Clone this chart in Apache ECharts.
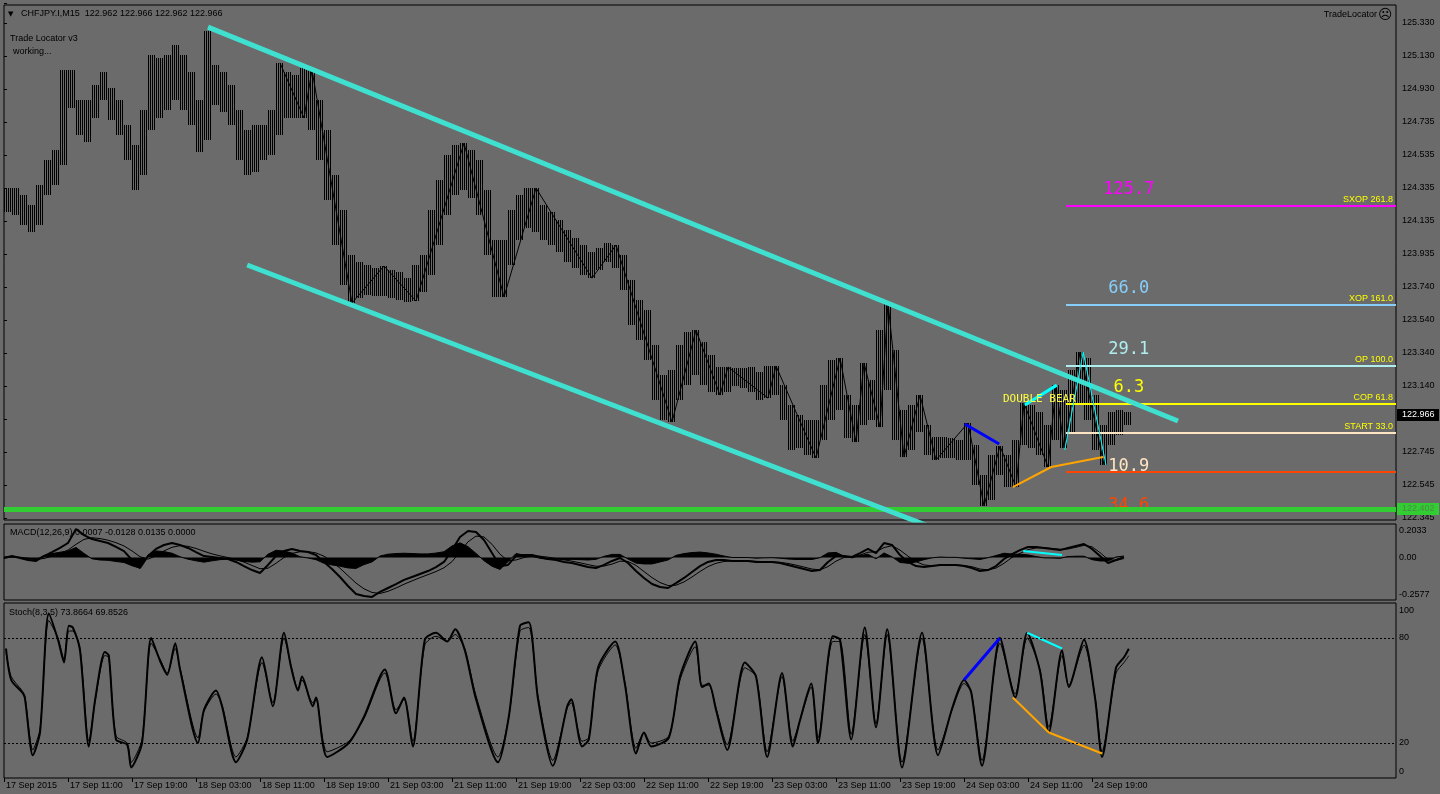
<!DOCTYPE html>
<html>
<head>
<meta charset="utf-8">
<script src="https://cdn.jsdelivr.net/npm/echarts@6/dist/echarts.min.js"></script>
<style>
html,body{margin:0;padding:0;background:#6b6b6b;}
#c{width:1440px;height:794px;}
</style>
</head>
<body>
<div id="c"></div>
<script>
// ---------------- DATA ----------------
const headerText = 'CHFJPY.I,M15  122.962 122.966 122.962 122.966';
const macdHeader = 'MACD(12,26,9) 0.0007 -0.0128 0.0135 0.0000';
const stochHeader = 'Stoch(8,3,5) 73.8664 69.8526';

// time axis: hours since 17 Sep 03:00 (trading hours), label every 8 hours
const timeLabels = ['17 Sep 2015','17 Sep 11:00','17 Sep 19:00','18 Sep 03:00','18 Sep 11:00','18 Sep 19:00',
  '21 Sep 03:00','21 Sep 11:00','21 Sep 19:00','22 Sep 03:00','22 Sep 11:00','22 Sep 19:00',
  '23 Sep 03:00','23 Sep 11:00','23 Sep 19:00','24 Sep 03:00','24 Sep 11:00','24 Sep 19:00'];
const hoursPerLabel = 8;

const priceTickLabels = ['122.345','122.545','122.745','122.940','123.140','123.340','123.540','123.740',
  '123.935','124.135','124.335','124.535','124.735','124.930','125.130','125.330'];

// hourly bars (high / low)
const barHigh = [124.331,124.331,124.289,124.229,124.349,124.500,124.560,125.042,125.042,124.861,
  124.861,124.951,125.030,124.933,124.861,124.711,124.590,124.801,125.132,125.114,
  125.132,125.192,125.132,125.030,124.861,125.276,125.072,125.030,124.951,124.801,
  124.680,124.711,124.711,124.801,125.084,125.030,125.012,125.054,125.042,124.861,
  124.680,124.410,124.199,123.928,123.886,123.868,123.850,123.862,123.838,123.826,
  123.789,123.868,123.928,124.199,124.379,124.530,124.590,124.602,124.560,124.500,
  124.319,124.018,124.018,124.199,124.289,124.331,124.331,124.229,124.187,124.139,
  124.078,124.030,123.988,123.946,123.970,124.000,123.988,123.928,123.777,123.657,
  123.597,123.386,123.206,123.236,123.386,123.464,123.476,123.404,123.326,123.254,
  123.254,123.248,123.248,123.254,123.224,123.260,123.260,123.145,123.025,122.965,
  122.935,122.935,123.145,123.296,123.308,123.085,123.025,123.278,123.175,123.476,
  123.639,123.356,122.995,123.025,123.085,122.905,122.832,122.832,122.826,122.814,
  122.917,122.784,122.604,122.724,122.778,122.724,122.814,123.037,123.025,122.983,
  122.905,123.145,123.115,123.236,123.344,123.308,123.085,122.905,122.983,122.995,
  122.983];
const barLow = [124.187,124.169,124.109,124.066,124.109,124.289,124.349,124.470,124.813,124.650,
  124.608,124.753,124.861,124.741,124.650,124.500,124.319,124.410,124.680,124.753,
  124.801,124.861,124.801,124.711,124.548,124.620,124.831,124.789,124.711,124.500,
  124.410,124.428,124.500,124.530,124.650,124.753,124.753,124.753,124.680,124.500,
  124.259,123.988,123.747,123.639,123.669,123.687,123.681,123.681,123.669,123.657,
  123.645,123.651,123.705,123.808,123.988,124.169,124.289,124.319,124.271,124.169,
  123.928,123.675,123.675,123.868,124.018,124.090,124.066,124.018,123.988,123.946,
  123.886,123.850,123.808,123.789,123.838,123.886,123.850,123.717,123.507,123.416,
  123.296,123.055,122.935,122.923,123.055,123.145,123.206,123.145,123.103,123.085,
  123.103,123.139,123.127,123.103,123.055,123.067,123.085,122.935,122.754,122.766,
  122.724,122.706,122.814,122.935,122.995,122.826,122.802,122.905,122.935,122.892,
  123.115,122.814,122.712,122.754,122.862,122.724,122.694,122.706,122.706,122.694,
  122.694,122.543,122.417,122.453,122.604,122.531,122.531,122.784,122.766,122.724,
  122.652,122.814,122.766,122.862,123.025,122.935,122.754,122.664,122.784,122.844,
  122.905];

// zigzag pivots (bar index, price)
const zigzagBar = [34,37,38,43,47,51,57,62,66,73,76,83,86,89,90,95,96,101,104,106,107,109,110,112,114,116,120,122,124,126,127,130,131,132,134,137];
const zigzagPrice = [125.084,124.753,125.042,123.639,123.862,123.651,124.602,123.675,124.331,123.789,123.988,122.923,123.476,123.085,123.254,123.067,123.260,122.706,123.308,122.802,123.278,122.892,123.639,122.712,123.085,122.694,122.917,122.417,122.778,122.531,123.037,122.652,123.145,122.766,123.344,122.664];

// channel trend lines (hour, price)
const channelUpper = [[25.5,125.300],[146.75,122.929]];
const channelLower = [[30.4,123.868],[117,122.270]];

// Trade Locator levels
const levelStartH = 132.75;
const levelLabelH = 140.6;
const levelPrices = [124.223,123.626,123.257,123.029,122.857,122.620];
const levelNames  = ['SXOP 261.8','XOP 161.0','OP 100.0','COP 61.8','START 33.0',''];
const levelPips   = ['125.7','66.0','29.1','6.3','10.9','34.6'];
const levelBelow  = [0,0,0,0,1,1];
const levelColors = ['#ff00ff','#87cefa','#afeeee','#ffff00','#ffe4c4','#ff4500'];

const currentPrice = 122.966;
const supportPrice = 122.402;

// pattern lines on price
const bluePattern   = [[120.1,122.911],[124.4,122.790]];
const cyanPattern   = [[127.6,123.025],[131.6,123.145]];
const orangePattern = [[126.1,122.531],[130.9,122.652],[137.4,122.712]];
const cyanZig       = [[132.6,122.754],[134.9,123.344],[137.75,122.664]];
const annotationText = 'DOUBLE BEAR';
const annotationPos = [124.875,123.061];

// MACD (hourly)
const macdMain = [-0.003,0.009,-0.003,-0.015,-0.021,0.009,0.033,0.058,0.088,0.173,
  0.136,0.112,0.100,0.088,0.064,0.039,-0.015,-0.064,0.009,0.052,
  0.076,0.088,0.076,0.058,0.033,0.009,0.003,-0.003,-0.009,-0.027,
  -0.052,-0.076,-0.094,-0.045,0.009,0.039,0.052,0.039,0.033,0.015,
  -0.027,-0.070,-0.118,-0.173,-0.221,-0.233,-0.239,-0.209,-0.185,-0.161,
  -0.136,-0.118,-0.100,-0.082,-0.058,-0.027,0.045,0.124,0.161,0.155,
  0.106,0.027,-0.052,-0.045,0.009,0.015,0.015,0.003,-0.009,-0.015,
  -0.027,-0.033,-0.045,-0.058,-0.064,-0.045,-0.021,-0.003,-0.033,-0.082,
  -0.124,-0.161,-0.179,-0.185,-0.155,-0.124,-0.088,-0.052,-0.027,-0.015,
  -0.015,-0.021,-0.021,-0.021,-0.027,-0.027,-0.027,-0.033,-0.045,-0.058,
  -0.070,-0.082,-0.076,-0.027,0.009,0.009,0.003,0.027,0.052,0.027,
  0.088,0.076,0.015,-0.027,-0.052,-0.058,-0.052,-0.045,-0.045,-0.045,
  -0.052,-0.064,-0.082,-0.076,-0.052,-0.009,0.021,0.045,0.064,0.064,
  0.058,0.052,0.045,0.058,0.070,0.082,0.052,0.009,-0.033,-0.015,
  0.003];
const macdSignal = [-0.002,0.002,0.002,-0.004,-0.010,-0.006,0.008,0.025,0.045,0.080,
  0.110,0.120,0.115,0.105,0.090,0.070,0.040,0.005,-0.010,0.010,
  0.040,0.062,0.072,0.068,0.055,0.038,0.022,0.010,0.000,-0.012,
  -0.028,-0.048,-0.068,-0.065,-0.035,0.000,0.025,0.035,0.036,0.028,
  0.008,-0.025,-0.065,-0.110,-0.155,-0.190,-0.212,-0.218,-0.205,-0.185,
  -0.162,-0.142,-0.122,-0.104,-0.085,-0.062,-0.025,0.035,0.095,0.130,
  0.125,0.080,0.020,-0.020,-0.015,0.000,0.008,0.008,0.002,-0.006,
  -0.014,-0.022,-0.032,-0.043,-0.053,-0.052,-0.040,-0.022,-0.024,-0.048,
  -0.085,-0.122,-0.152,-0.170,-0.168,-0.148,-0.118,-0.085,-0.055,-0.035,
  -0.024,-0.021,-0.021,-0.021,-0.023,-0.025,-0.026,-0.029,-0.036,-0.046,
  -0.058,-0.070,-0.075,-0.055,-0.022,0.000,0.005,0.015,0.032,0.035,
  0.060,0.072,0.045,0.008,-0.025,-0.045,-0.050,-0.048,-0.046,-0.046,
  -0.048,-0.056,-0.070,-0.075,-0.064,-0.035,0.000,0.025,0.048,0.058,
  0.060,0.055,0.050,0.052,0.062,0.074,0.065,0.030,-0.012,-0.018,
  -0.006];
const macdHist = [0.003,0.006,0.000,-0.010,-0.012,0.012,0.024,0.032,0.040,0.061,
  0.025,-0.008,-0.015,-0.017,-0.024,-0.030,-0.050,-0.065,0.015,0.040,
  0.036,0.026,0.005,-0.010,-0.020,-0.028,-0.020,-0.013,-0.009,-0.015,
  -0.024,-0.028,-0.026,0.020,0.044,0.039,0.027,0.005,-0.003,-0.013,
  -0.035,-0.045,-0.053,-0.063,-0.066,-0.043,-0.027,0.009,0.020,0.024,
  0.026,0.024,0.022,0.022,0.027,0.035,0.070,0.089,0.066,0.025,
  -0.019,-0.053,-0.072,-0.025,0.024,0.015,0.007,-0.005,-0.011,-0.009,
  -0.013,-0.011,-0.013,-0.015,-0.011,0.007,0.019,0.019,-0.009,-0.034,
  -0.039,-0.039,-0.027,-0.015,0.013,0.024,0.030,0.033,0.028,0.020,
  0.009,0.000,0.000,0.000,-0.004,-0.002,-0.001,-0.004,-0.009,-0.012,
  -0.012,-0.012,-0.001,0.028,0.031,0.009,-0.002,0.012,0.020,-0.008,
  0.028,0.004,-0.030,-0.035,-0.027,-0.013,-0.002,0.003,0.001,0.001,
  -0.004,-0.008,-0.012,-0.001,0.012,0.026,0.021,0.020,0.016,0.006,
  -0.002,-0.003,-0.005,0.006,0.008,0.008,-0.013,-0.021,-0.021,0.003,
  0.009];
const macdCyan = [[127.4,0.039],[132.25,0.015]];
const macdTickValues = [0.2033,0,-0.2577];
const macdTickLabels = ['0.2033','0.00','-0.2577'];

// Stochastic (hour, value)
const stochTime = [0.25,0.9,2.25,2.6,3.6,4.5,5.6,6.75,7.5,8.1,
  8.6,9.5,10.6,11.4,12.6,13.1,14,15.4,15.9,17.25,
  18.4,19.5,20.4,21.4,22,24.25,25,26.5,27.25,29,
  30.4,32.25,33.6,35,35.9,36.75,37.25,38.6,39,40.4,
  43.1,45,47.6,49,50,51.1,52.6,54,55.4,56.4,
  57.6,59,61.75,63.1,64.5,65.6,66.75,68.6,70.4,70.9,
  72.25,73.1,74.25,76.4,77.6,79,80,80.9,83.1,84.5,
  86.4,87.25,88.1,89,90.4,92.6,94,95.4,97.25,98.6,
  99.5,100.9,101.75,103.6,104.5,105.9,107.6,109,110.4,112.25,
  114.75,116.75,118.6,120,120.9,122.25,124.5,126.4,127.9,129.5,
  130.6,132.25,133.1,135,136.4,137.25,139,140,140.6];
const stochMain = [74,56,49,46,13,26,94,79,66,87,
  86,73,18,45,72,70,22,19,6,20,
  80,67,59,77,62,20,39,50,41,9,
  22,69,41,83,63,50,58,41,46,12,
  20,35,62,37,46,18,79,83,78,85,
  73,45,9,35,87,89,45,7,41,45,
  18,22,63,78,54,14,26,18,23,58,
  78,52,54,39,16,66,58,12,60,18,
  33,54,20,81,79,22,86,29,85,6,
  83,13,41,56,49,7,80,46,83,61,
  26,73,52,79,45,12,63,69,73.87];
const stochSignal = [72,58,50,47,16,28,90,80,68,84,
  84,74,21,44,70,69,24,20,9,22,
  77,68,60,74,63,23,38,48,42,12,
  23,66,43,80,64,51,56,43,45,15,
  21,34,60,39,45,21,76,81,78,82,
  74,47,12,35,84,86,47,10,40,43,
  21,23,61,76,55,17,26,20,24,56,
  75,53,53,40,19,63,58,15,58,21,
  33,52,23,78,78,25,82,31,82,9,
  80,16,40,54,49,10,77,48,80,62,
  29,70,53,76,46,15,60,66,69.85];
const stochBlue   = [[120,56],[124.5,80]];
const stochCyan   = [[127.9,83],[132.25,74]];
const stochOrange = [[126.1,46],[130.6,26],[137.25,14]];
const stochLevels = [80,20];
const stochTickLabels = {0:'{b|0}',20:'20',80:'80',100:'{t|100}'};

// ---------------- CHART ----------------
const FONT = '"Liberation Sans", Arial, sans-serif';
const X_MAX = 174;
const BG = '#6b6b6b';
const chart = echarts.init(document.getElementById('c'), null, {renderer:'canvas', width:1440, height:794});

// hatch pattern: thin vertical bar lines, like dense M15 bars
const hatch = document.createElement('canvas');
hatch.width = 2; hatch.height = 1;
const hctx = hatch.getContext('2d');
hctx.fillStyle = '#000'; hctx.fillRect(0,0,1,1);
const hatchFill = {image: hatch, repeat: 'repeat'};

const gridBase = {containLabel:false, outerBoundsMode:'none', backgroundColor:'transparent'};
const bordered = {show:true, borderColor:'#000', borderWidth:1};
const timeTickValues = timeLabels.map((_,k)=>k*hoursPerLabel);

function xAx(i, show){
  return {type:'value', gridIndex:i, min:0, max:X_MAX, interval:hoursPerLabel, show:show,
    axisLine:{show:false}, splitLine:{show:false},
    axisTick:{show:show, length:4, customValues:timeTickValues, lineStyle:{color:'#000', width:1}},
    axisLabel:{show:show, margin:3, color:'#000', fontSize:9, fontFamily:FONT, align:'left', padding:[0,0,0,2],
      customValues:timeTickValues,
      formatter:function(v){ const k = Math.round(v/hoursPerLabel); return (Math.abs(v-k*hoursPerLabel)<1e-6 && k<timeLabels.length) ? timeLabels[k] : ''; }}
  };
}

const bars = barHigh.map((h,j)=>[j, barLow[j], h]);
const zigzag = zigzagBar.map((j,i)=>[j+0.5, zigzagPrice[i]]);
const levelData = levelPrices.map((p,i)=>[levelStartH, p, i]);

const option = {
  animation:false,
  backgroundColor:BG,
  textStyle:{fontFamily:FONT},
  grid:[
    Object.assign({left:4, top:5, width:1392, height:515}, gridBase, bordered),
    Object.assign({left:4, top:3, width:1392, height:515, show:false}, gridBase),
    Object.assign({left:4, top:524, width:1392, height:76}, gridBase, bordered),
    Object.assign({left:4, top:603, width:1392, height:175}, gridBase, bordered)
  ],
  xAxis:[xAx(0,false), xAx(1,false), xAx(2,false), xAx(3,true)],
  yAxis:[
    {type:'value', gridIndex:0, min:122.333, max:125.433, show:false, splitLine:{show:false}},
    {type:'value', gridIndex:1, position:'right', min:0, max:15.606, interval:1,
      axisLine:{show:false}, splitLine:{show:false},
      axisTick:{show:true, length:3, lineStyle:{color:'#000'}},
      axisLabel:{margin:6, color:'#000', fontSize:9, fontFamily:FONT,
        formatter:function(v){ const k=Math.round(v); return (Math.abs(v-k)<1e-6 && k>=0 && k<priceTickLabels.length) ? priceTickLabels[k] : ''; }}},
    {type:'value', gridIndex:2, position:'right', min:-0.2577, max:0.2033, interval:0.2577,
      axisLine:{show:false}, splitLine:{show:false}, axisTick:{show:false},
      axisLabel:{margin:3, color:'#000', fontSize:9, fontFamily:FONT, showMinLabel:true, showMaxLabel:true,
        rich:{t:{padding:[14,0,0,0], color:'#000', fontSize:9, fontFamily:FONT}, b:{padding:[0,0,10,0], color:'#000', fontSize:9, fontFamily:FONT}},
        formatter:function(v){
          for (let i=0;i<macdTickValues.length;i++){
            if (Math.abs(v-macdTickValues[i])<1e-6){
              if (i===0) return '{t|'+macdTickLabels[i]+'}';
              if (i===macdTickValues.length-1) return '{b|'+macdTickLabels[i]+'}';
              return macdTickLabels[i];
            }
          }
          return '';
        }}},
    {type:'value', gridIndex:3, position:'right', min:0, max:100, interval:20,
      axisLine:{show:false}, splitLine:{show:false}, axisTick:{show:false},
      axisLabel:{margin:3, color:'#000', fontSize:9, fontFamily:FONT, showMinLabel:true, showMaxLabel:true,
        rich:{t:{padding:[16,0,0,0], color:'#000', fontSize:9, fontFamily:FONT}, b:{padding:[0,0,12,0], color:'#000', fontSize:9, fontFamily:FONT}},
        formatter:function(v){ const k=Math.round(v); return stochTickLabels[k]!==undefined && Math.abs(v-k)<1e-6 ? stochTickLabels[k] : ''; }}}
  ],
  graphic:[
    {type:'text', x:8, y:14, style:{text:'▼', font:'7px "DejaVu Sans"', fill:'#000', verticalAlign:'middle'}},
    {type:'text', x:21, y:14, style:{text:headerText, font:'9px '+FONT, fill:'#000', verticalAlign:'middle'}},
    {type:'text', x:10, y:39, style:{text:'Trade Locator v3', font:'9px '+FONT, fill:'#000', verticalAlign:'middle'}},
    {type:'text', x:13, y:52, style:{text:'working...', font:'9px '+FONT, fill:'#000', verticalAlign:'middle'}},
    {type:'text', x:1377, y:15, style:{text:'TradeLocator', font:'9px '+FONT, fill:'#000', align:'right', verticalAlign:'middle'}},
    {type:'text', x:1378, y:15, style:{text:'☹', font:'14px "DejaVu Sans"', fill:'#000', verticalAlign:'middle'}},
    {type:'text', x:10, y:533, style:{text:macdHeader, font:'9px '+FONT, fill:'#000', verticalAlign:'middle'}},
    {type:'text', x:9, y:613, style:{text:stochHeader, font:'9px '+FONT, fill:'#000', verticalAlign:'middle'}}
  ],
  series:[
    // hourly bar ranges drawn with an M15-like hatch
    {type:'custom', name:'bars', xAxisIndex:0, yAxisIndex:0, z:2, silent:true,
      renderItem:function(params, api){
        const j = api.value(0);
        const lo = api.coord([j, api.value(1)]);
        const hi = api.coord([j, api.value(2)]);
        const nx = api.coord([j+1, api.value(1)]);
        const x0 = Math.round(lo[0]), x1 = Math.round(nx[0]);
        const y0 = Math.round(hi[1]), y1 = Math.round(lo[1]);
        return {type:'rect', shape:{x:x0, y:y0, width:x1-x0, height:Math.max(1,y1-y0)}, style:{fill:hatchFill}};
      },
      data:bars},
    // zigzag + support line
    {type:'line', name:'zigzag', xAxisIndex:0, yAxisIndex:0, z:3, data:zigzag, symbol:'none', silent:true,
      lineStyle:{color:'#000', width:1}},
    {type:'line', name:'support', xAxisIndex:0, yAxisIndex:0, z:7, data:[], symbol:'none', silent:true,
      markLine:{silent:true, symbol:['none','none'], label:{show:false}, animation:false,
        lineStyle:{color:'#32cd32', width:5, type:'solid'}, data:[{yAxis:supportPrice}]}},
    // levels
    {type:'custom', name:'levels', xAxisIndex:0, yAxisIndex:0, z:4, clip:false, silent:true,
      renderItem:function(params, api){
        const i = api.value(2);
        const p0 = api.coord([api.value(0), api.value(1)]);
        const cs = params.coordSys;
        const xr = cs.x + cs.width;
        const y = Math.round(p0[1]);
        const kids = [{type:'line', shape:{x1:p0[0], y1:y, x2:xr, y2:y}, style:{stroke:levelColors[i], lineWidth:2}}];
        if (levelNames[i]) kids.push({type:'text', style:{text:levelNames[i], x:xr-3, y:y-6, fill:'#ffff00', font:'9px '+FONT, align:'right', verticalAlign:'middle'}});
        const pl = api.coord([levelLabelH, api.value(1)]);
        kids.push({type:'text', style:{text:levelPips[i], x:pl[0], y:y + (levelBelow[i] ? 34 : -16), fill:levelColors[i],
          font:'17px "DejaVu Sans Mono", monospace', align:'center', verticalAlign:'middle'}});
        return {type:'group', children:kids};
      },
      data:levelData},
    // channel
    {type:'line', name:'chanUp', xAxisIndex:0, yAxisIndex:0, z:5, data:channelUpper, symbol:'none', silent:true,
      lineStyle:{color:'#40e0d0', width:5}},
    {type:'line', name:'chanLo', xAxisIndex:0, yAxisIndex:0, z:5, data:channelLower, symbol:'none', silent:true,
      lineStyle:{color:'#40e0d0', width:5}},
    // patterns
    {type:'line', xAxisIndex:0, yAxisIndex:0, z:6, data:bluePattern, symbol:'none', silent:true, lineStyle:{color:'#0000ff', width:3}},
    {type:'line', xAxisIndex:0, yAxisIndex:0, z:6, data:cyanPattern, symbol:'none', silent:true, lineStyle:{color:'#00ffff', width:3}},
    {type:'line', xAxisIndex:0, yAxisIndex:0, z:6, data:orangePattern, symbol:'none', silent:true, lineStyle:{color:'#ffa500', width:2}},
    {type:'line', xAxisIndex:0, yAxisIndex:0, z:6, data:cyanZig, symbol:'none', silent:true, lineStyle:{color:'#00ffff', width:1}},
    // annotation + price tags
    {type:'custom', xAxisIndex:0, yAxisIndex:0, z:8, clip:false, silent:true,
      renderItem:function(params, api){
        const cs = params.coordSys;
        const xr = cs.x + cs.width + 1;
        const kind = api.value(2);
        const p = api.coord([api.value(0), api.value(1)]);
        if (kind === 0) {
          return {type:'text', style:{text:annotationText, x:p[0], y:p[1], fill:'#ffff40', font:'11px "DejaVu Sans Mono", monospace', verticalAlign:'middle'}};
        }
        const y = Math.round(p[1]);
        const isCur = kind === 1;
        return {type:'group', children:[
          {type:'rect', shape:{x:xr, y:y-6, width:42, height:12}, style:{fill: isCur ? '#000' : '#32cd32'}},
          {type:'text', style:{text: (isCur ? currentPrice : supportPrice).toFixed(3), x:xr+5, y:y, fill: isCur ? '#fff' : '#4b8a4b', font:'9px '+FONT, verticalAlign:'middle'}}
        ]};
      },
      data:[[annotationPos[0], annotationPos[1], 0],[0, currentPrice, 1],[0, supportPrice, 2]]},

    // MACD
    {type:'line', name:'hist', xAxisIndex:2, yAxisIndex:2, z:2, symbol:'none', silent:true,
      data:macdHist.map((v,h)=>[h,v]), lineStyle:{color:'#000', width:1}, areaStyle:{color:'#000', opacity:1, origin:0}},
    {type:'line', name:'macd', xAxisIndex:2, yAxisIndex:2, z:3, symbol:'none', silent:true,
      data:macdMain.map((v,h)=>[h,v]), lineStyle:{color:'#000', width:2}},
    {type:'line', name:'signal', xAxisIndex:2, yAxisIndex:2, z:3, symbol:'none', silent:true,
      data:macdSignal.map((v,h)=>[h,v]), lineStyle:{color:'#000', width:1}},
    {type:'line', xAxisIndex:2, yAxisIndex:2, z:4, symbol:'none', silent:true, data:macdCyan, lineStyle:{color:'#00ffff', width:2}},

    // Stochastic
    {type:'line', name:'stoch', xAxisIndex:3, yAxisIndex:3, z:3, symbol:'none', silent:true, smooth:0.25,
      data:stochTime.map((t,i)=>[t, stochMain[i]]), lineStyle:{color:'#000', width:2},
      markLine:{silent:true, symbol:['none','none'], label:{show:false}, lineStyle:{color:'#000', width:1, type:[2,2]},
        data:stochLevels.map(v=>({yAxis:v}))}},
    {type:'line', name:'stochSig', xAxisIndex:3, yAxisIndex:3, z:3, symbol:'none', silent:true, smooth:0.25,
      data:stochTime.map((t,i)=>[t, stochSignal[i]]), lineStyle:{color:'#000', width:1}},
    {type:'line', xAxisIndex:3, yAxisIndex:3, z:4, symbol:'none', silent:true, data:stochBlue, lineStyle:{color:'#0000ff', width:3}},
    {type:'line', xAxisIndex:3, yAxisIndex:3, z:4, symbol:'none', silent:true, data:stochCyan, lineStyle:{color:'#00ffff', width:2}},
    {type:'line', xAxisIndex:3, yAxisIndex:3, z:4, symbol:'none', silent:true, data:stochOrange, lineStyle:{color:'#ffa500', width:2}}
  ]
};
chart.setOption(option);
</script>
</body>
</html>
